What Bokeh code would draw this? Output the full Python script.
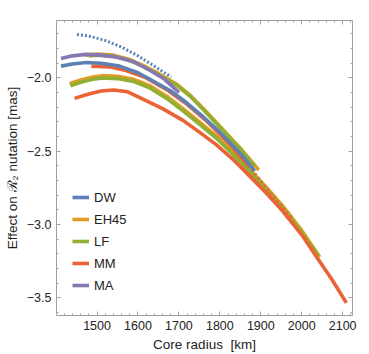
from bokeh.plotting import figure
from bokeh.models import (Range1d, LinearAxis, SingleIntervalTicker, Legend,
                          LegendItem, CustomJSTickFormatter)
from bokeh.embed import file_html
from bokeh.resources import INLINE

# ---- data (core radius km, effect on R2 nutation mas) ----
dw_up_km = [1451, 1480, 1520, 1560, 1600, 1640, 1681]
dw_up_v = [-1.705, -1.715, -1.745, -1.79, -1.85, -1.92, -1.995]

dw_km = [1412, 1440, 1473, 1510, 1555, 1600, 1636, 1680, 1710, 1759, 1800, 1850, 1885]
dw_v = [-1.92, -1.905, -1.895, -1.90, -1.92, -1.965, -2.02, -2.09, -2.15, -2.265, -2.37, -2.515, -2.636]

ma_km = [1412, 1440, 1473, 1510, 1550, 1590, 1630, 1665, 1700]
ma_v = [-1.868, -1.85, -1.84, -1.845, -1.86, -1.89, -1.95, -2.01, -2.10]

eh_up_km = [1470, 1500, 1540, 1580, 1612, 1650, 1693, 1730, 1760, 1800, 1850, 1895]
eh_up_v = [-1.845, -1.838, -1.845, -1.875, -1.915, -1.97, -2.04, -2.125, -2.21, -2.33, -2.48, -2.628]

lf_up_km = [1480, 1500, 1540, 1580, 1612, 1650, 1693, 1730, 1760, 1800, 1850, 1885]
lf_up_v = [-1.85, -1.845, -1.852, -1.882, -1.922, -1.977, -2.047, -2.132, -2.217, -2.337, -2.487, -2.60]

eh_lo_km = [1433, 1460, 1490, 1514, 1550, 1590, 1630, 1670, 1710, 1750, 1791, 1830, 1873, 1915, 1954, 2000, 2044]
eh_lo_v = [-2.04, -2.015, -1.995, -1.985, -1.99, -2.01, -2.055, -2.125, -2.21, -2.30, -2.395, -2.50, -2.625, -2.75, -2.875, -3.04, -3.222]

lf_lo_km = [1435, 1460, 1490, 1514, 1550, 1590, 1630, 1670, 1710, 1750, 1791, 1830, 1873, 1915, 1954, 2000, 2040]
lf_lo_v = [-2.055, -2.03, -2.01, -2.0, -2.005, -2.025, -2.07, -2.14, -2.225, -2.315, -2.41, -2.515, -2.64, -2.765, -2.89, -3.055, -3.21]

mm_up_km = [1486, 1530, 1571, 1620, 1670, 1720, 1770, 1820, 1870]
mm_up_v = [-1.92, -1.925, -1.95, -2.0, -2.08, -2.18, -2.30, -2.44, -2.60]
mm_up2_km = [1870, 1920, 1979]
mm_up2_v = [-2.60, -2.77, -2.965]

mm_lo_km = [1445, 1480, 1510, 1540, 1575, 1612, 1660, 1710, 1750, 1791, 1830, 1873, 1915, 1954, 2000, 2036, 2075, 2109]
mm_lo_v = [-2.14, -2.11, -2.09, -2.083, -2.095, -2.145, -2.21, -2.29, -2.37, -2.455, -2.55, -2.67, -2.79, -2.91, -3.07, -3.22, -3.38, -3.534]

labels = ["DW", "EH45", "LF", "MM", "MA"]
colors = ["#5E81B5", "#E19C24", "#8FB032", "#EB6235", "#8778B3"]

FONT = "Liberation Sans"
FRAME = "#a0a0a0"

p = figure(output_backend="svg", toolbar_location=None,
           frame_width=296, frame_height=295,
           x_range=Range1d(1401, 2124), y_range=Range1d(-3.62, -1.609),
           min_border_left=56, min_border_right=10, min_border_top=20,
           min_border_bottom=30, x_axis_location=None, y_axis_location=None)
p.background_fill_color = "white"
p.border_fill_color = "white"
p.grid.visible = False
p.outline_line_color = FRAME
p.outline_line_width = 1


def make_axis(kind, interval, show_labels, label=None):
    ticker = SingleIntervalTicker(interval=interval, num_minor_ticks=5)
    ax = LinearAxis(ticker=ticker)
    ax.axis_line_color = None
    ax.major_tick_line_color = FRAME
    ax.minor_tick_line_color = FRAME
    ax.major_tick_in = 4
    ax.major_tick_out = 0
    ax.minor_tick_in = 2
    ax.minor_tick_out = 0
    if show_labels:
        ax.major_label_text_font = FONT
        ax.major_label_text_font_size = "12.5px"
        ax.major_label_text_color = "#222222"
        ax.major_label_standoff = 5
        ax.axis_label = label
        ax.axis_label_text_font = FONT
        ax.axis_label_text_font_size = "13.5px"
        ax.axis_label_text_font_style = "normal"
        ax.axis_label_text_color = "#222222"
        ax.axis_label_standoff = 4
        if kind == "y":
            ax.formatter = CustomJSTickFormatter(
                code="return (tick < 0 ? '\\u2212' : '') + Math.abs(tick).toFixed(1);")
    else:
        ax.formatter = CustomJSTickFormatter(code="return '';")
        ax.major_label_standoff = 0
    return ax


p.add_layout(make_axis("x", 100, True, "Core radius\u00a0\u00a0[km]"), "below")
p.add_layout(make_axis("x", 100, False), "above")
p.add_layout(make_axis("y", 0.5, True, "Effect on \u211B\u2082 nutation [mas]"), "left")
p.add_layout(make_axis("y", 0.5, False), "right")

LW = 3.6
r_eh_lo = p.line(eh_lo_km, eh_lo_v, color=colors[1], line_width=LW, line_join="round")
r_lf_lo = p.line(lf_lo_km, lf_lo_v, color=colors[2], line_width=LW, line_join="round")
r_mm_lo = p.line(mm_lo_km, mm_lo_v, color=colors[3], line_width=LW, line_join="round")
r_mm_up = p.line(mm_up_km, mm_up_v, color=colors[3], line_width=LW, line_join="round")
p.line(mm_up2_km, mm_up2_v, color=colors[3], line_width=3, line_dash="2 3")
r_eh_up = p.line(eh_up_km, eh_up_v, color=colors[1], line_width=LW, line_join="round")
r_lf_up = p.line(lf_up_km, lf_up_v, color=colors[2], line_width=LW, line_join="round")
r_dw = p.line(dw_km, dw_v, color=colors[0], line_width=LW, line_join="round")
p.line(dw_up_km, dw_up_v, color=colors[0], line_width=3, line_dash="2 2")
r_ma = p.line(ma_km, ma_v, color=colors[4], line_width=LW, line_join="round")

legend = Legend(items=[
    LegendItem(label=labels[0], renderers=[r_dw]),
    LegendItem(label=labels[1], renderers=[r_eh_lo]),
    LegendItem(label=labels[2], renderers=[r_lf_lo]),
    LegendItem(label=labels[3], renderers=[r_mm_lo]),
    LegendItem(label=labels[4], renderers=[r_ma]),
], location=(16, 20))
legend.padding = 0
legend.margin = 0
legend.spacing = 2
legend.glyph_width = 17
legend.glyph_height = 20
legend.label_height = 20
legend.label_standoff = 5
legend.label_text_font = FONT
legend.label_text_font_size = "13px"
legend.label_text_color = "#222222"
legend.border_line_color = None
legend.background_fill_alpha = 0
p.add_layout(legend)

open("out.html", "w").write(file_html(p, INLINE))
